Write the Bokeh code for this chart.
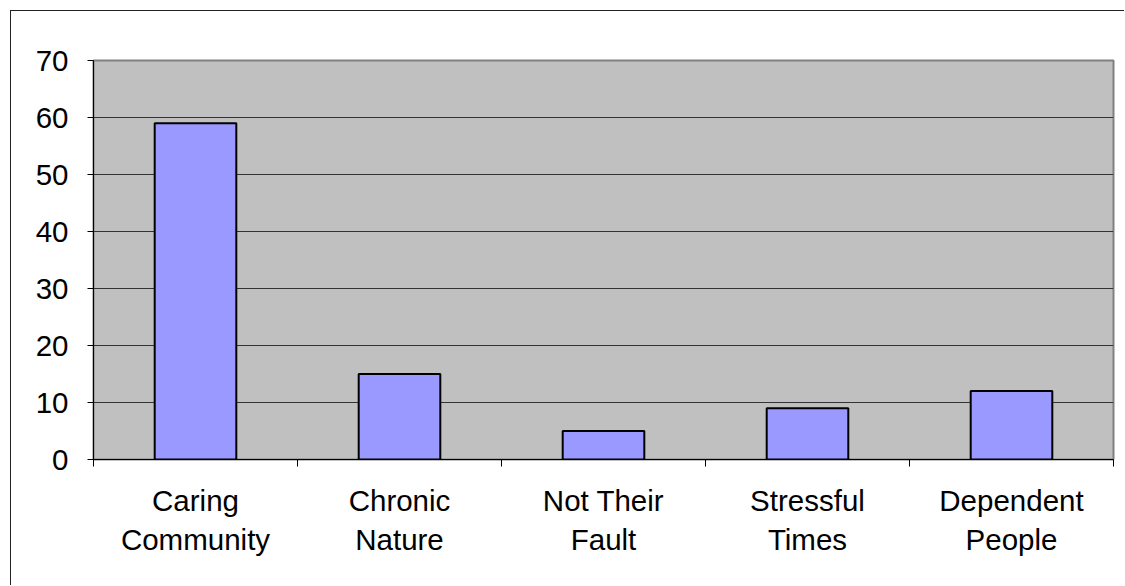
from bokeh.plotting import figure
from bokeh.models import FixedTicker, InlineStyleSheet
from bokeh.embed import file_html
from bokeh.resources import INLINE

categories = ["Caring\nCommunity", "Chronic\nNature", "Not Their\nFault", "Stressful\nTimes", "Dependent\nPeople"]
values = [59, 15, 5, 9, 12]
y_ticks = [0, 10, 20, 30, 40, 50, 60, 70]

xs = [i + 0.5 for i in range(len(categories))]

p = figure(width=1114, height=575, output_backend="svg", toolbar_location=None,
           x_range=(0, len(categories)), y_range=(0, 70),
           min_border_left=82, min_border_top=49, min_border_right=12, min_border_bottom=127)
p.margin = (10, 0, 0, 10)
p.stylesheets = [InlineStyleSheet(css=":host { border-left: 1px solid #222222; border-top: 1px solid #222222; }")]

p.background_fill_color = "#C0C0C0"
p.border_fill_color = "white"
p.outline_line_color = "#808080"
p.outline_line_width = 2

p.vbar(x=xs, top=values, width=0.4, fill_color="#9999FF", line_color="black", line_width=2)

FONT = "Liberation Sans"

# y axis
p.yaxis.ticker = FixedTicker(ticks=y_ticks)
p.yaxis.axis_line_color = "black"
p.yaxis.axis_line_width = 1
p.yaxis.major_tick_out = 6
p.yaxis.major_tick_in = 0
p.yaxis.major_tick_line_color = "black"
p.yaxis.minor_tick_line_color = None
p.yaxis.major_label_text_font = FONT
p.yaxis.major_label_text_font_size = "29.5px"
p.yaxis.major_label_text_color = "black"
p.yaxis.major_label_standoff = 19

# x axis
p.xaxis.ticker = FixedTicker(ticks=xs, minor_ticks=list(range(len(categories) + 1)))
p.xaxis.major_label_overrides = {x: c for x, c in zip(xs, categories)}
p.xaxis.axis_line_color = "black"
p.xaxis.major_tick_line_color = None
p.xaxis.major_tick_out = 0
p.xaxis.major_tick_in = 0
p.xaxis.minor_tick_line_color = "black"
p.xaxis.minor_tick_out = 7
p.xaxis.minor_tick_in = 0
p.xaxis.major_label_text_font = FONT
p.xaxis.major_label_text_font_size = "29.5px"
p.xaxis.major_label_text_color = "black"
p.xaxis.major_label_text_line_height = 1.2
p.xaxis.major_label_standoff = 17

p.xgrid.grid_line_color = None
p.ygrid.grid_line_color = "#333333"
p.ygrid.grid_line_width = 1

open("out.html", "w").write(file_html(p, INLINE))
